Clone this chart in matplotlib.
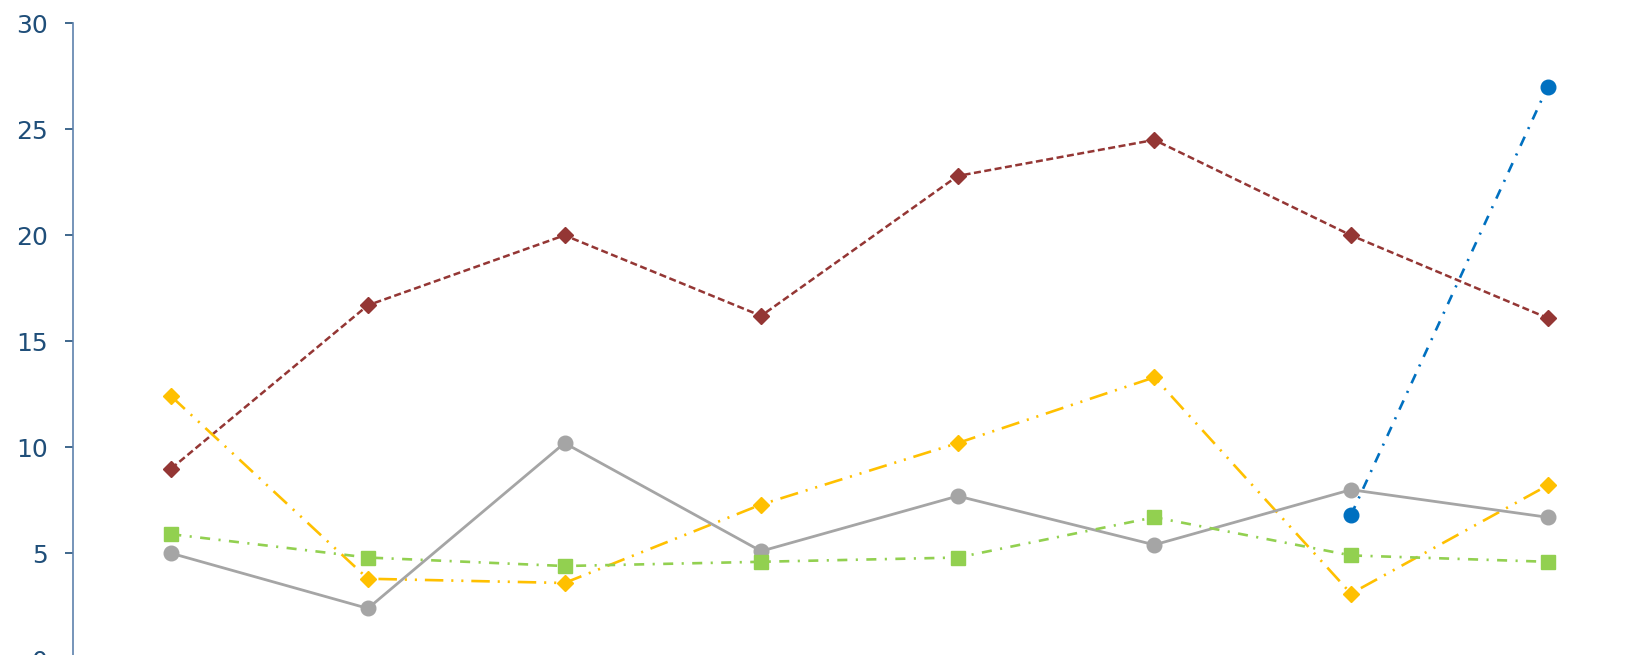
import matplotlib.pyplot as plt
import numpy as np

x = np.arange(8)
brown = [9.0, 16.7, 20.0, 16.2, 22.8, 24.5, 20.0, 16.1]
yellow = [12.4, 3.8, 3.6, 7.3, 10.2, 13.3, 3.1, 8.2]
gray = [5.0, 2.4, 10.2, 5.1, 7.7, 5.4, 8.0, 6.7]
green = [5.9, 4.8, 4.4, 4.6, 4.8, 6.7, 4.9, 4.6]
blue = [np.nan, np.nan, np.nan, np.nan, np.nan, np.nan, 6.8, 27.0]

W, H = 1638, 655
fig = plt.figure(figsize=(W / 100, H / 100), dpi=100)
# axes runs a little past the bottom edge, like the cropped original
ax = fig.add_axes([73 / W, -4.3 / H, (W - 73) / W, 636 / H])

ax.plot(x, brown, color='#943634', ls=(0, (2.8, 1.4)), lw=1.8, marker='D', ms=8)
ax.plot(x, yellow, color='#FFC000', ls=(0, (7, 3, 0.8, 3, 0.8, 3)), lw=1.9, marker='D', ms=8)
ax.plot(x, gray, color='#A5A5A5', ls='-', lw=2.0, marker='o', ms=10.5)
ax.plot(x, green, color='#92D050', ls=(0, (3.8, 3.2, 0.8, 3.2)), lw=1.9, marker='s', ms=10)
ax.plot(x, blue, color='#0070C0', ls=(0, (3.8, 3.2, 0.8, 3.2)), lw=1.9, marker='o', ms=10.5)

ax.set_xlim(-0.5, 7.46)
ax.set_ylim(0, 30)
ax.set_yticks([0, 5, 10, 15, 20, 25, 30])
ax.set_xticks([])
for s in ['top', 'right', 'bottom']:
    ax.spines[s].set_visible(False)
ax.spines['left'].set_color('#5E82AD')
ax.spines['left'].set_linewidth(1.2)
ax.tick_params(axis='y', colors='#1F4E79', labelsize=18, length=5.8, width=1.2, pad=12.5)
ax.spines['left'].set_color('#5E82AD')

fig.savefig('out.png', dpi=100)
